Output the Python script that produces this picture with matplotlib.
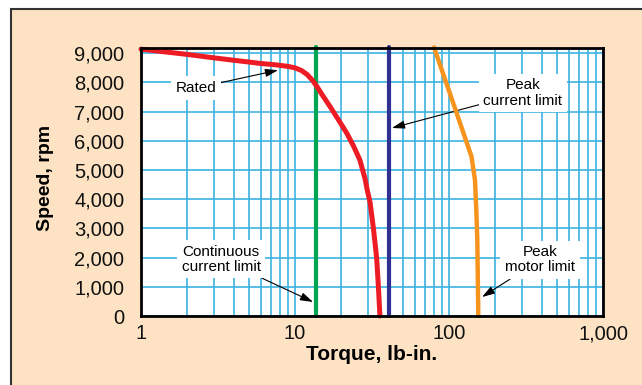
import matplotlib
matplotlib.use("Agg")
import matplotlib.pyplot as plt
import matplotlib.ticker as mticker
from matplotlib.patches import Rectangle

plt.rcParams['font.family'] = ['Liberation Sans', 'DejaVu Sans']

# rated torque/speed curve
rated_torque = [1, 2, 3, 4, 5, 6, 7.6, 9, 10, 11, 12, 13, 14, 15, 16.9, 19, 21.7,
                24, 26.4, 28.5, 29.5, 30.7, 32.3, 33.9, 34.8, 35.6]
rated_speed = [9140, 8960, 8840, 8760, 8700, 8650, 8600, 8550, 8500, 8410, 8270,
               8070, 7830, 7580, 7170, 6750, 6260, 5820, 5340, 4700, 4300, 3900,
               3000, 1990, 1000, 0]

# peak motor limit
peak_torque = [80, 106.7, 140, 147.5, 150.5, 152.7, 155]
peak_speed = [9200, 7280, 5460, 4660, 3600, 2600, 0]

cont_limit = 13.7
peak_current = 40.8
limit_speed = [0, 9200]

yticks = [0, 1000, 2000, 3000, 4000, 5000, 6000, 7000, 8000, 9000]
xticks = [1, 10, 100, 1000]

BEIGE = "#fde3c3"
GRID = "#3cb3e0"
RED = "#ed1c24"
GREEN = "#00a651"
BLUE = "#2e3192"
ORANGE = "#f7941d"

fig = plt.figure(figsize=(6.42, 3.85), dpi=100)
fig.patch.set_facecolor("white")
panel = Rectangle((11 / 642, -0.1), 1.2, 1 - 9 / 385 + 0.1, transform=fig.transFigure,
                  facecolor=BEIGE, edgecolor="#333333", lw=1.5, zorder=0)
fig.add_artist(panel)

ax = fig.add_axes([141 / 642, 1 - 316 / 385, 462 / 642, 268 / 385])
ax.set_facecolor("white")
ax.set_xscale("log")
ax.set_xlim(1, 1000)
ax.set_ylim(0, 9180)

ax.set_xticks(xticks)
ax.xaxis.set_major_formatter(mticker.FuncFormatter(lambda v, p: f"{int(round(v)):,}"))
ax.xaxis.set_minor_locator(mticker.LogLocator(base=10, subs=range(2, 10)))
ax.xaxis.set_minor_formatter(mticker.NullFormatter())
ax.set_yticks(yticks)
ax.yaxis.set_major_formatter(mticker.FuncFormatter(lambda v, p: f"{int(v):,}"))

ax.tick_params(which="both", length=0, labelsize=14.5, colors="#111111")
ax.tick_params(axis="y", pad=12)
ax.tick_params(axis="x", pad=6)

ax.grid(True, which="both", axis="x", color=GRID, lw=1.2)
ax.grid(True, which="major", axis="y", color=GRID, lw=1.2)
ax.set_axisbelow(True)
for s in ax.spines.values():
    s.set_linewidth(2)
    s.set_color("black")
    s.set_zorder(5)

ax.plot([cont_limit, cont_limit], limit_speed, color=GREEN, lw=3, solid_capstyle="round",
        clip_on=False, zorder=4)
ax.plot([peak_current, peak_current], limit_speed, color=BLUE, lw=3, solid_capstyle="round",
        clip_on=False, zorder=4)
ax.plot(peak_torque, peak_speed, color=ORANGE, lw=3.2, solid_capstyle="round",
        solid_joinstyle="round", clip_on=False, zorder=4)
ax.plot(rated_torque, rated_speed, color=RED, lw=3.6, solid_capstyle="round",
        solid_joinstyle="round", clip_on=False, zorder=4)

ax.set_xlabel("Torque, lb-in.", fontsize=15, fontweight="bold")
ax.set_ylabel("Speed, rpm", fontsize=14, fontweight="bold")
ax.xaxis.set_label_coords(0.5, -(355 - 316) / 268)
ax.yaxis.set_label_coords((45 - 141) / 462, (316 - 177.5) / 268)
ax.xaxis.label.set_va("center")
ax.yaxis.label.set_va("center")

box = dict(boxstyle="square,pad=0.3", facecolor="white", edgecolor="none")
arrow = dict(arrowstyle="-|>,head_length=0.7,head_width=0.22", color="black", lw=0.8,
             shrinkA=0, shrinkB=0)

ax.annotate("Rated", xy=(7.76, 8420), xytext=(2.28, 7810), ha="center", va="center",
            fontsize=11, bbox=box, arrowprops=arrow, zorder=3)
ax.annotate("Peak\ncurrent limit", xy=(42.6, 6440), xytext=(302, 7640), ha="center",
            va="center", fontsize=11, bbox=box, arrowprops=arrow, zorder=3,
            linespacing=1.1)
ax.annotate("Continuous\ncurrent limit", xy=(13.1, 480), xytext=(3.31, 1950), ha="center",
            va="center", fontsize=11, bbox=box, arrowprops=arrow, zorder=3,
            linespacing=1.1)
ax.annotate("Peak\nmotor limit", xy=(163.8, 650), xytext=(390, 1920), ha="center",
            va="center", fontsize=11, bbox=box, arrowprops=arrow, zorder=3,
            linespacing=1.1)

fig.savefig("out.png", dpi=100, facecolor=fig.get_facecolor())
